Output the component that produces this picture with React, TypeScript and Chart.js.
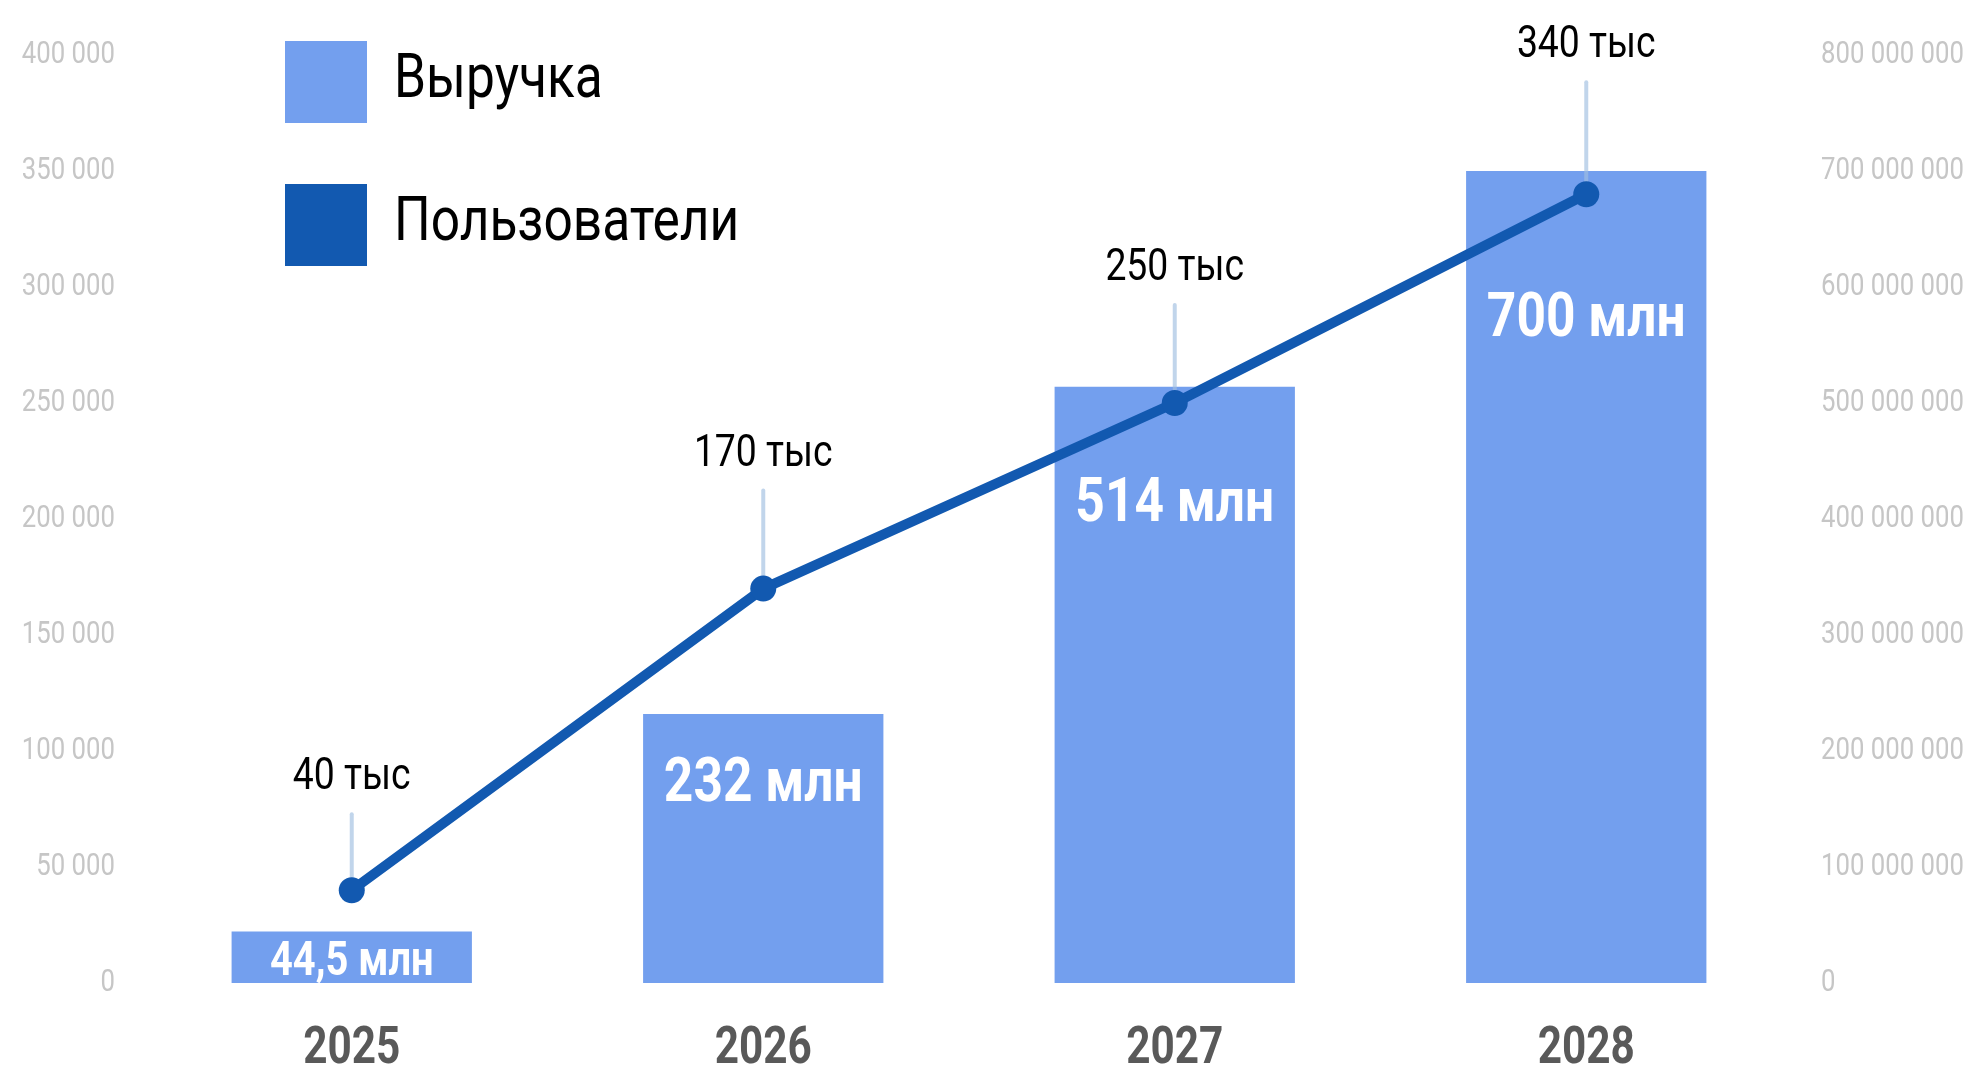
import React, { useEffect, useRef } from "react";
import { Chart, registerables } from "chart.js";

Chart.register(...registerables);

// ---- data ----
const years = ["2025", "2026", "2027", "2028"];
const revenue = [44500000, 232000000, 514000000, 700000000];
const users = [40000, 170000, 250000, 340000];
const revenueLabels = ["44,5 млн", "232 млн", "514 млн", "700 млн"];
const userLabels = ["40 тыс", "170 тыс", "250 тыс", "340 тыс"];
const seriesNames = ["Выручка", "Пользователи"];
const usersMax = 400000;
const usersStep = 50000;
const revenueMax = 800000000;
const revenueStep = 100000000;

// ---- style ----
const FONT = "Roboto, 'DejaVu Sans', sans-serif";
const SQUEEZE = 0.83; // horizontal condensing of all canvas text
const BAR_COLOR = "#739FEE";
const LINE_COLOR = "#1259B0";
const TICK_COLOR = "#c6c6c6";
const userLabelGap = [113, 135, 135, 149];
const barLabelGap = [-1, 68, 115, 145]; // -1 => centred in bar
const barLabelSize = [48, 62, 62, 62];
const BAR_TEXT_SHIFT = 4;
const POINT_TEXT_SHIFT = 1;

const fmt = (v: number) => String(v).replace(/\B(?=(\d{3})+(?!\d))/g, " ");

const condense = {
  id: "condense",
  beforeDraw(chart: any) {
    const ctx = chart.ctx;
    if (ctx.__condensed) return;
    ctx.__condensed = true;
    const orig = ctx.fillText.bind(ctx);
    ctx.fillText = (t: string, x: number, y: number, mw?: number) => {
      ctx.save();
      ctx.translate(x, y);
      ctx.scale(SQUEEZE, 1);
      if (mw === undefined) orig(t, 0, 0);
      else orig(t, 0, 0, mw / SQUEEZE);
      ctx.restore();
    };
  },
};

const annotate = {
  id: "annotate",
  afterDatasetDraw(chart: any, args: any) {
    if (args.index !== 0) return;
    const ctx = chart.ctx;
    const meta = chart.getDatasetMeta(1);
    ctx.save();
    ctx.strokeStyle = "rgba(160,190,225,0.65)";
    ctx.lineWidth = 4;
    ctx.lineCap = "round";
    meta.data.forEach((pt: any, i: number) => {
      const labelY = pt.y - userLabelGap[i];
      ctx.beginPath();
      ctx.moveTo(pt.x, labelY + 37);
      ctx.lineTo(pt.x, pt.y);
      ctx.stroke();
    });
    ctx.restore();
  },
  afterDraw(chart: any) {
    const ctx = chart.ctx;
    ctx.save();
    const lmeta = chart.getDatasetMeta(1);
    ctx.fillStyle = "#000";
    ctx.textAlign = "center";
    ctx.textBaseline = "middle";
    ctx.font = `45px ${FONT}`;
    lmeta.data.forEach((pt: any, i: number) => {
      ctx.fillText(userLabels[i], pt.x, pt.y - userLabelGap[i] + POINT_TEXT_SHIFT);
    });
    const bmeta = chart.getDatasetMeta(0);
    ctx.fillStyle = "#fff";
    bmeta.data.forEach((bar: any, i: number) => {
      ctx.font = `bold ${barLabelSize[i]}px ${FONT}`;
      const y = barLabelGap[i] < 0 ? (bar.y + bar.base) / 2 + 2 : bar.y + barLabelGap[i];
      ctx.fillText(revenueLabels[i], bar.x, y + BAR_TEXT_SHIFT);
    });
    const colors = [BAR_COLOR, LINE_COLOR];
    ctx.textAlign = "left";
    seriesNames.forEach((name, i) => {
      const y = 41 + i * 143;
      ctx.fillStyle = colors[i];
      ctx.fillRect(285, y, 82, 82);
      ctx.fillStyle = "#000";
      ctx.font = `62px ${FONT}`;
      ctx.fillText(name, 394, y + 40);
    });
    ctx.restore();
  },
};

export default function App() {
  const ref = useRef<HTMLCanvasElement>(null);
  useEffect(() => {
    document.body.style.margin = "0";
    document.body.style.overflow = "hidden";
    const chart = new Chart(ref.current as HTMLCanvasElement, {
      type: "bar",
      data: {
        labels: years,
        datasets: [
          {
            type: "bar",
            label: seriesNames[0],
            data: revenue,
            yAxisID: "y1",
            backgroundColor: BAR_COLOR,
            barPercentage: 0.584,
            categoryPercentage: 1,
            order: 1,
          } as any,
          {
            type: "line",
            label: seriesNames[1],
            data: users,
            yAxisID: "y",
            borderColor: LINE_COLOR,
            backgroundColor: LINE_COLOR,
            borderWidth: 10,
            pointRadius: 13,
            pointBorderWidth: 0,
            pointBackgroundColor: LINE_COLOR,
            tension: 0,
            order: 0,
          } as any,
        ],
      },
      options: {
        responsive: false,
        animation: false,
        layout: { padding: { top: 55, left: 0, right: 0, bottom: 0 } },
        plugins: { legend: { display: false }, tooltip: { enabled: false } },
        scales: {
          x: {
            grid: { display: false, drawTicks: false },
            border: { display: false },
            ticks: { color: "#595959", font: { family: FONT, size: 51, weight: "bold" }, padding: 37 },
            afterFit: (s: any) => { s.height = 87; },
          },
          y: {
            position: "left",
            min: 0,
            max: usersMax,
            grid: { display: false, drawTicks: false },
            border: { display: false },
            ticks: { stepSize: usersStep, color: TICK_COLOR, font: { family: FONT, size: 31 }, padding: 31, callback: (v: any) => fmt(v) },
            afterFit: (s: any) => { s.width = 146; },
          },
          y1: {
            position: "right",
            min: 0,
            max: revenueMax,
            grid: { display: false, drawTicks: false },
            border: { display: false },
            ticks: { stepSize: revenueStep, color: TICK_COLOR, font: { family: FONT, size: 31 }, padding: 29, callback: (v: any) => fmt(v) },
            afterFit: (s: any) => { s.width = 183; },
          },
        },
      } as any,
      plugins: [condense, annotate],
    });
    return () => chart.destroy();
  }, []);
  return <canvas ref={ref} width={1975} height={1070} style={{ display: "block" }} />;
}
